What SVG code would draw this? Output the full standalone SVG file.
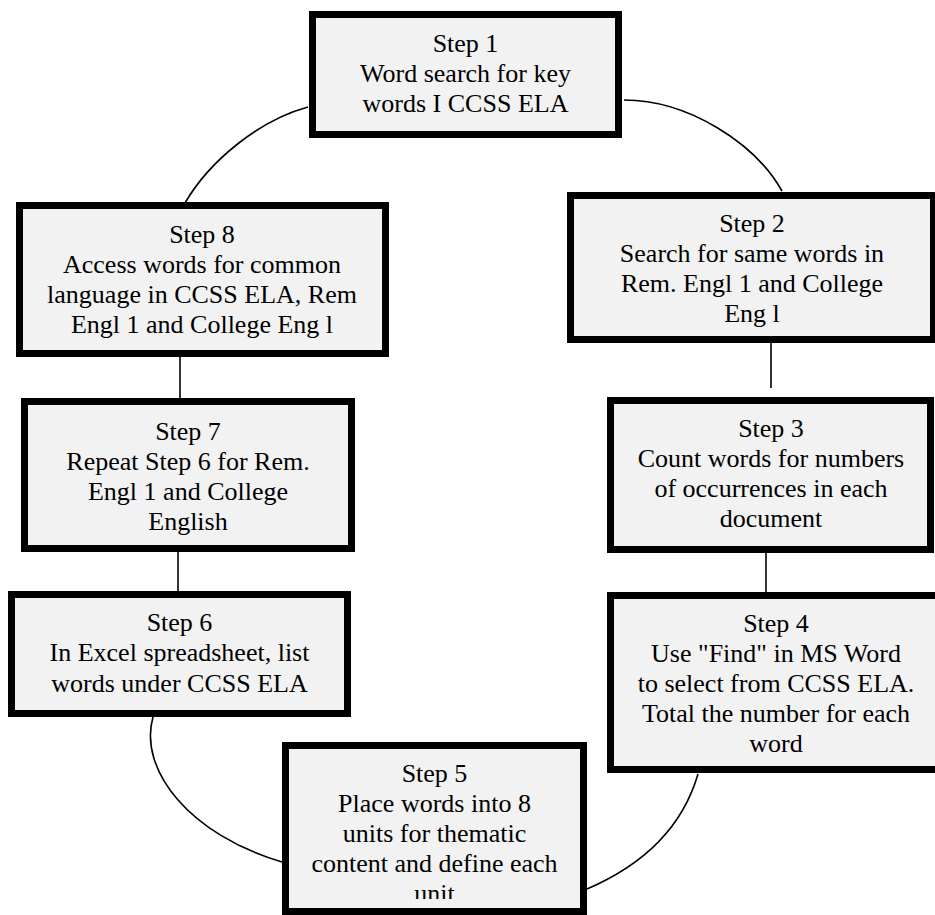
<svg xmlns="http://www.w3.org/2000/svg" width="935" height="915" viewBox="0 0 935 915">
<style>
.box{fill:#f2f2f2;stroke:#000;stroke-width:7}
.t{font-family:'Liberation Serif','Times New Roman',serif;font-size:26px;fill:#000;text-anchor:middle}
.c{fill:none;stroke:#000;stroke-width:1.6}
</style>
<defs>
<clipPath id="clip5"><rect x="280" y="740" width="320" height="159"/></clipPath>
</defs>
<rect width="935" height="915" fill="#fff"/>
<g id="connectors">
<path class="c" d="M624,100 C688,100 755,143 782,191"/>
<path class="c" d="M308,107 C260,120 210,160 185,203"/>
<line class="c" x1="180" y1="357" x2="180" y2="398"/>
<line class="c" x1="178" y1="552" x2="178" y2="591"/>
<line class="c" x1="771" y1="343" x2="771" y2="388"/>
<line class="c" x1="766" y1="553" x2="766" y2="592"/>
<path class="c" d="M153,717 C138,770 190,835 282,862"/>
<path class="c" d="M698,774 C684,822 650,862 587,889"/>
</g>
<g id="step1">
<rect class="box" x="312.5" y="14.5" width="306" height="120"/>
<text class="t" x="465.5" y="52">Step 1</text>
<text class="t" x="465.5" y="82">Word search for key</text>
<text class="t" x="465.5" y="112">words I CCSS ELA</text>
</g>
<g id="step2">
<rect class="box" x="570.5" y="195.5" width="363" height="144"/>
<text class="t" x="752" y="232">Step 2</text>
<text class="t" x="752" y="262">Search for same words in</text>
<text class="t" x="752" y="292">Rem. Engl 1 and College</text>
<text class="t" x="752" y="322">Eng l</text>
</g>
<g id="step3">
<rect class="box" x="610.5" y="400.5" width="320" height="149"/>
<text class="t" x="771" y="437">Step 3</text>
<text class="t" x="771" y="467">Count words for numbers</text>
<text class="t" x="771" y="497">of occurrences in each</text>
<text class="t" x="771" y="527">document</text>
</g>
<g id="step4">
<rect class="box" x="610.5" y="595.5" width="335" height="174"/>
<text class="t" x="776" y="632">Step 4</text>
<text class="t" x="776" y="662">Use "Find" in MS Word</text>
<text class="t" x="776" y="692">to select from CCSS ELA.</text>
<text class="t" x="776" y="722">Total the number for each</text>
<text class="t" x="776" y="752">word</text>
</g>
<g id="step5">
<rect class="box" x="285.5" y="745.5" width="298" height="166"/>
<g clip-path="url(#clip5)">
<text class="t" x="434.5" y="782">Step 5</text>
<text class="t" x="434.5" y="812">Place words into 8</text>
<text class="t" x="434.5" y="842">units for thematic</text>
<text class="t" x="434.5" y="872">content and define each</text>
<text class="t" x="434.5" y="902">unit</text>
</g>
</g>
<g id="step6">
<rect class="box" x="11.5" y="594.5" width="336" height="119"/>
<text class="t" x="179.5" y="630.5">Step 6</text>
<text class="t" x="179.5" y="661">In Excel spreadsheet, list</text>
<text class="t" x="179.5" y="691.5">words under CCSS ELA</text>
</g>
<g id="step7">
<rect class="box" x="24.5" y="401.5" width="327" height="147"/>
<text class="t" x="188" y="440">Step 7</text>
<text class="t" x="188" y="470">Repeat Step 6 for Rem.</text>
<text class="t" x="188" y="500">Engl 1 and College</text>
<text class="t" x="188" y="530">English</text>
</g>
<g id="step8">
<rect class="box" x="19.5" y="205.5" width="366" height="148"/>
<text class="t" x="202" y="243">Step 8</text>
<text class="t" x="202" y="273">Access words for common</text>
<text class="t" x="202" y="303">language in CCSS ELA, Rem</text>
<text class="t" x="202" y="333">Engl 1 and College Eng l</text>
</g>
</svg>
